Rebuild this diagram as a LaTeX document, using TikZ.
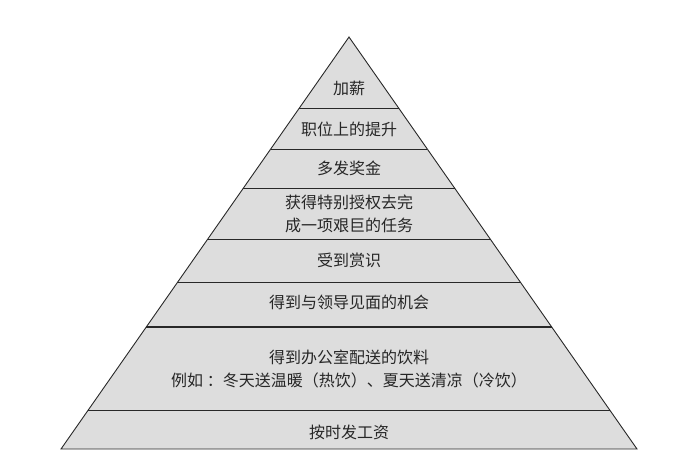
\documentclass[tikz,border=0pt]{standalone}
\usepackage{fontspec}
\newfontfamily\cjk{Noto Sans CJK SC}
\definecolor{pyrgray}{RGB}{221,221,221}
\definecolor{pyrline}{RGB}{40,40,40}

\begin{document}
\begin{tikzpicture}[
  x=1pt, y=-1pt,
  layer/.style={font=\cjk\fontsize{16}{23}\selectfont, align=center, text=black!85},
  divider/.style={draw=pyrline, line width=0.9pt}
]
\useasboundingbox (0,0) rectangle (678,456);
\coordinate (apex) at (349,37);
\coordinate (bl) at (61,449);
\coordinate (br) at (637,449);

\fill[pyrgray] (apex) -- (bl) -- (br) -- cycle;

% dividers between layers
\foreach \y in {108,149,188,239,282,410} {
  \pgfmathsetmacro{\hw}{(\y-37)/412*288}
  \draw[divider] (349-\hw,\y) -- (349+\hw,\y);
}
\pgfmathsetmacro{\hw}{(327-37)/412*288}
\draw[divider, line width=1.4pt] (349-\hw,327) -- (349+\hw,327);

\draw[divider] (apex) -- (bl) -- (br) -- cycle;

\node[layer] (raise) at (349,88) {加薪};
\node[layer] (promo) at (349,129) {职位上的提升};
\node[layer] (bonus) at (349,168) {多发奖金};
\node[layer] (task) at (349,214) {获得特别授权去完\\成一项艰巨的任务};
\node[layer] (praise) at (349,260) {受到赏识};
\node[layer] (meet) at (349,302) {得到与领导见面的机会};
\node[layer] (drinks) at (349,369) {得到办公室配送的饮料\\例如 ：冬天送温暖（热饮）、夏天送清凉（冷饮）};
\node[layer] (salary) at (349,432) {按时发工资};
\end{tikzpicture}
\end{document}
